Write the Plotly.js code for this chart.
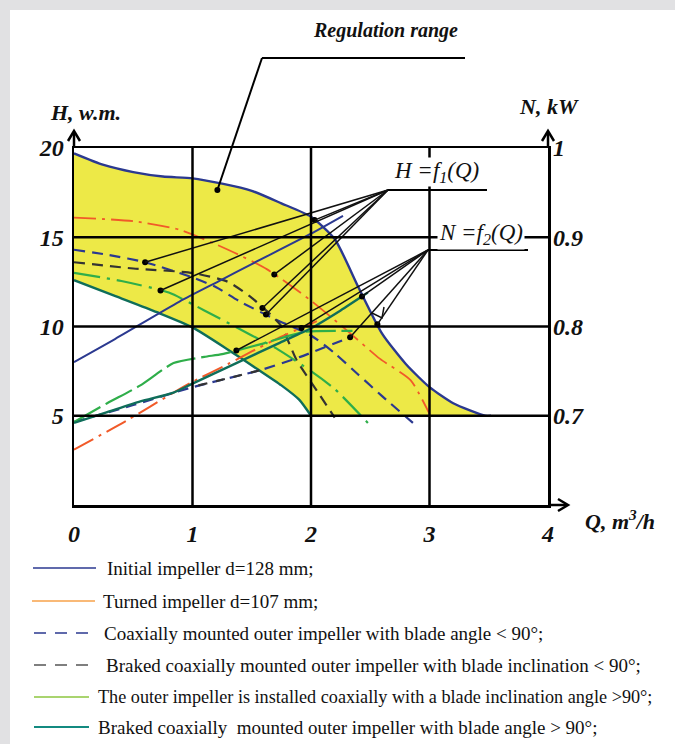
<!DOCTYPE html>
<html><head><meta charset="utf-8">
<script src="https://cdn.plot.ly/plotly-3.0.1.min.js"></script>
<style>
body{margin:0;background:#fff;}
#plot{width:675px;height:744px;}
#plot svg text{font-family:"Liberation Serif","Times New Roman",serif !important;}
.band{position:absolute;background:#e1e1e3;}
</style>
</head><body>
<div id="plot"></div>
<div class="band" style="left:0;top:0;width:675px;height:10px"></div>
<div class="band" style="left:0;top:0;width:10px;height:744px"></div>
<script>
// ---------- data ----------
const qTicks = [0, 1, 2, 3, 4];
const qTickText = ['0', '1', '2', '3', '4'];
const hGrid = [0, 5, 10, 15, 20];
const hTicks = [5, 10, 15, 20];
const hTickText = ['5', '10', '15', '20'];
const nTicks = [0.7, 0.8, 0.9, 1.0];
const nTickText = ['0.7', '0.8', '0.9', '1'];

// H = f1(Q), head in w.m.
const qInitH  = [0, 0.25, 0.5, 0.75, 1, 1.25, 1.5, 1.75, 2, 2.2, 2.4, 2.6, 2.8, 3.0, 3.2, 3.47, 3.52];
const hInitH  = [19.7, 19.05, 18.65, 18.4, 18.3, 18.0, 17.6, 16.9, 16.15, 14.9, 12.2, 9.6, 7.9, 6.6, 5.7, 5.0, 5.0];
const qTurnH  = [0, 0.5, 0.9, 1.3, 1.63, 1.99, 2.3, 2.58, 2.84, 3.0];
const hTurnH  = [16.1, 15.9, 15.4, 14.3, 13.2, 11.5, 9.8, 8.2, 7.0, 5.1];
const qCoaxLtH = [0, 0.3, 0.6, 1.0, 1.2, 1.4, 1.7, 2.0, 2.2, 2.4, 2.6, 2.86];
const hCoaxLtH = [14.3, 14.0, 13.6, 12.75, 12.2, 11.4, 10.4, 9.5, 8.5, 7.3, 6.1, 4.6];
const qBrakeLtH = [0, 0.5, 1.0, 1.3, 1.5, 1.74, 1.88, 2.05, 2.2];
const hBrakeLtH = [13.6, 13.25, 13.0, 12.5, 11.6, 10.1, 8.1, 6.4, 4.9];
const qCoaxGtH = [0, 0.4, 0.8, 1.1, 1.5, 1.7, 2.0, 2.2, 2.48];
const hCoaxGtH = [13.0, 12.55, 11.9, 10.9, 9.5, 8.8, 7.5, 6.5, 4.6];
const qBrakeGtH = [0, 0.35, 0.7, 1.0, 1.3, 1.55, 1.75, 1.9, 2.0];
const hBrakeGtH = [12.6, 11.7, 10.8, 9.95, 8.7, 7.6, 6.7, 5.9, 5.0];

// N = f2(Q), power in kW
const qInitN  = [0, 0.32, 0.89, 1.24, 1.5, 2.0, 2.27];
const nInitN  = [0.760, 0.784, 0.828, 0.852, 0.870, 0.904, 0.924];
const qTurnN  = [0, 0.45, 0.84, 1.0, 1.3, 1.5, 1.74, 2.05];
const nTurnN  = [0.662, 0.695, 0.726, 0.738, 0.758, 0.772, 0.788, 0.806];
const qCoaxLtN = [0, 0.5, 1.0, 1.3, 1.57, 1.91, 2.33];
const nCoaxLtN = [0.693, 0.712, 0.732, 0.742, 0.751, 0.766, 0.788];
const qBrakeLtN = [1.05, 1.3, 1.6];
const nBrakeLtN = [0.734, 0.742, 0.752];
const qCoaxGtN = [0, 0.28, 0.56, 0.84, 1.1, 1.25, 1.57, 1.95, 2.35];
const nCoaxGtN = [0.693, 0.714, 0.734, 0.759, 0.766, 0.769, 0.780, 0.794, 0.795];
const qBrakeGtN = [0, 0.28, 0.56, 0.84, 1.0, 1.37, 1.74, 2.0, 2.25, 2.48];
const nBrakeGtN = [0.692, 0.704, 0.716, 0.726, 0.736, 0.759, 0.782, 0.798, 0.818, 0.838];

const legendLabels = [
  'Initial impeller d=128 mm;',
  'Turned impeller d=107 mm;',
  'Coaxially mounted outer impeller with blade angle &lt; 90°;',
  'Braked coaxially mounted outer impeller with blade inclination &lt; 90°;',
  'The outer impeller is installed coaxially with a blade inclination angle >90°;',
  'Braked coaxially  mounted outer impeller with blade angle > 90°;'
];

// ---------- styling / layout ----------
const qRange = [0, 4], hRange = [0, 20], nRange = [0.6, 1.0];
const L = 74, T = 148, PW = 474, PH = 357, FW = 675, FH = 744;
const px = x => (x - L) / PW;
const py = y => (T + PH - y) / PH;
const SERIF = 'Liberation Serif';

const C = {blue:'#2b3990', orange:'#f15a29', grey:'#333333', green:'#2fae4a', teal:'#0f6e5a', yellow:'#ede947'};

function interp(xs, ys, q){
  for (let i = 0; i < xs.length - 1; i++){
    if (q >= xs[i] && q <= xs[i+1]) return ys[i] + (ys[i+1]-ys[i])*(q-xs[i])/(xs[i+1]-xs[i]);
  }
  return ys[ys.length-1];
}

const traces = [];
// regulation range (yellow)
traces.push({x: qInitH.concat(qBrakeGtH.slice().reverse()), y: hInitH.concat(hBrakeGtH.slice().reverse()),
  mode:'lines', fill:'toself', fillcolor:C.yellow, line:{width:0}, hoverinfo:'skip'});

function ln(x, y, color, width, dash, axis){
  return {x, y, mode:'lines', line:{color, width, dash, shape:'spline', smoothing:0.6}, yaxis: axis||'y', hoverinfo:'skip'};
}
const dashBlue = '11px,7px', dashDotOr = '22px,6px,3px,6px', dashGreen = '26px,7px,3px,7px';
// N curves
traces.push(ln(qTurnN, nTurnN, C.orange, 2, dashDotOr, 'y2'));
traces.push(ln(qCoaxLtN, nCoaxLtN, C.blue, 2.2, dashBlue, 'y2'));
traces.push(ln(qBrakeLtN, nBrakeLtN, C.grey, 2.2, '9px,9px', 'y2'));
traces.push(ln(qCoaxGtN, nCoaxGtN, C.green, 2.2, '30px,6px', 'y2'));
traces.push(ln(qBrakeGtN, nBrakeGtN, C.teal, 2.4, 'solid', 'y2'));
traces.push(ln(qInitN, nInitN, C.blue, 2, 'solid', 'y2'));
// H curves
traces.push(ln(qTurnH, hTurnH, C.orange, 1.8, dashDotOr));
traces.push(ln(qCoaxLtH, hCoaxLtH, C.blue, 2.2, dashBlue));
traces.push(ln(qBrakeLtH, hBrakeLtH, C.grey, 2.2, dashBlue));
traces.push(ln(qCoaxGtH, hCoaxGtH, C.green, 2.2, dashGreen));
traces.push(ln(qBrakeGtH, hBrakeGtH, C.teal, 2.4, 'solid'));
traces.push(ln(qInitH, hInitH, C.blue, 2.4, 'solid'));

// pointer targets on the curves
const hTargets = [
  {xs:qCoaxLtH, ys:hCoaxLtH, q:0.6, ax:'h'},
  {xs:qCoaxGtH, ys:hCoaxGtH, q:0.73, ax:'h'},
  {xs:qTurnH, ys:hTurnH, q:1.69, ax:'h'},
  {xs:qBrakeLtH, ys:hBrakeLtH, q:1.59, ax:'h'},
  {xs:qCoaxLtH, ys:hCoaxLtH, q:1.62, ax:'h'},
  {xs:qInitH, ys:hInitH, q:2.03, ax:'h'}
];
const nTargets = [
  {xs:qBrakeGtN, ys:nBrakeGtN, q:2.43, ax:'n'},
  {xs:qInitH, ys:hInitH, q:2.56, ax:'h'},
  {xs:qCoaxLtN, ys:nCoaxLtN, q:2.33, ax:'n'},
  {xs:qTurnN, ys:nTurnN, q:1.92, ax:'n'},
  {xs:qCoaxGtN, ys:nCoaxGtN, q:1.37, ax:'n'}
];
const regDot = {q:1.21, h:17.65};

function toPaper(t){
  const v = interp(t.xs, t.ys, t.q);
  const yp = t.ax === 'h' ? (v - hRange[0])/(hRange[1]-hRange[0]) : (v - nRange[0])/(nRange[1]-nRange[0]);
  return {x:(t.q - qRange[0])/(qRange[1]-qRange[0]), y:yp, v};
}

const shapes = [];
const lineStyle = {color:'#111', width:1.5};
const hOrigin = {x:px(388), y:py(190)};
const nOrigin = {x:px(428), y:py(250)};
const dotsH = {x:[], y:[]}, dotsN = {x:[], y:[]};
hTargets.forEach(t => { const p = toPaper(t);
  shapes.push({type:'line', xref:'paper', yref:'paper', x0:hOrigin.x, y0:hOrigin.y, x1:p.x, y1:p.y, line:lineStyle, layer:'above'});
  dotsH.x.push(t.q); dotsH.y.push(p.v); });
nTargets.forEach(t => { const p = toPaper(t);
  shapes.push({type:'line', xref:'paper', yref:'paper', x0:nOrigin.x, y0:nOrigin.y, x1:p.x, y1:p.y, line:lineStyle, layer:'above'});
  if (t.ax === 'h'){ dotsH.x.push(t.q); dotsH.y.push(p.v); } else { dotsN.x.push(t.q); dotsN.y.push(p.v); } });
dotsH.x.push(regDot.q); dotsH.y.push(regDot.h);
traces.push({x:dotsH.x, y:dotsH.y, mode:'markers', marker:{color:'#000', size:6}, hoverinfo:'skip'});
traces.push({x:dotsN.x, y:dotsN.y, yaxis:'y2', mode:'markers', marker:{color:'#000', size:6}, hoverinfo:'skip'});

// regulation range leader
const regP = {x:(regDot.q-qRange[0])/(qRange[1]-qRange[0]), y:(regDot.h-hRange[0])/(hRange[1]-hRange[0])};
shapes.push({type:'line', xref:'paper', yref:'paper', x0:regP.x, y0:regP.y, x1:px(262), y1:py(58), line:{color:'#000', width:2}, layer:'above'});
shapes.push({type:'line', xref:'paper', yref:'paper', x0:px(262), y0:py(58), x1:px(465), y1:py(58), line:{color:'#000', width:2}, layer:'above'});
// label underlines
shapes.push({type:'line', xref:'paper', yref:'paper', x0:px(388), y0:py(190), x1:px(487), y1:py(190), line:{color:'#000', width:2}, layer:'above'});
shapes.push({type:'line', xref:'paper', yref:'paper', x0:px(428), y0:py(250), x1:px(528), y1:py(250), line:{color:'#000', width:2}, layer:'above'});

// interior grid lines from ticks
qTicks.slice(1, -1).forEach(q => shapes.push({type:'line', xref:'x', yref:'y', x0:q, x1:q, y0:hRange[0], y1:hRange[1], line:{color:'#000', width:2.5}, layer:'above'}));
hGrid.slice(1, -1).forEach(h => shapes.push({type:'line', xref:'x', yref:'y', x0:qRange[0], x1:qRange[1], y0:h, y1:h, line:{color:'#000', width:2.5}, layer:'above'}));

// axis arrows
function arrowPath(tx, ty, dir){
  if (dir === 'up') return `M${px(tx-6)},${py(ty+10)} L${px(tx)},${py(ty)} L${px(tx+6)},${py(ty+10)}`;
  return `M${px(tx-10)},${py(ty-6)} L${px(tx)},${py(ty)} L${px(tx-10)},${py(ty+6)}`;
}
shapes.push({type:'line', xref:'paper', yref:'paper', x0:px(74), y0:py(148), x1:px(74), y1:py(132), line:{color:'#000', width:2.5}});
shapes.push({type:'path', xref:'paper', yref:'paper', path:arrowPath(74, 131, 'up'), line:{color:'#000', width:2.5}});
shapes.push({type:'line', xref:'paper', yref:'paper', x0:px(548), y0:py(148), x1:px(548), y1:py(132), line:{color:'#000', width:2.5}});
shapes.push({type:'path', xref:'paper', yref:'paper', path:arrowPath(548, 131, 'up'), line:{color:'#000', width:2.5}});
shapes.push({type:'line', xref:'paper', yref:'paper', x0:px(548), y0:py(505), x1:px(567), y1:py(505), line:{color:'#000', width:2.5}});
shapes.push({type:'path', xref:'paper', yref:'paper', path:arrowPath(568, 505, 'right'), line:{color:'#000', width:2.5}});
// small arrowhead on one N pointer
shapes.push({type:'path', xref:'paper', yref:'paper',
  path:`M${px(372)},${py(313)} L${px(382)},${py(318)} L${px(384)},${py(307)}`, line:{color:'#111', width:1.5}, layer:'above'});

// legend (drawn)
const legY = [568, 601, 633, 665, 697, 727];
const legX0 = [33, 32, 34, 34, 34, 34], legX1 = [96, 95, 93, 93, 89, 89], legTX = [105, 101, 102, 104, 96, 96];
const legSize = [19, 19, 19, 19, 18.2, 19];
const legStyle = [
  {color:'#2b3990', width:1.6, dash:'solid'},
  {color:'#f7a24a', width:1.6, dash:'solid'},
  {color:'#2b3990', width:1.6, dash:'12px,9px'},
  {color:'#555555', width:1.6, dash:'12px,9px'},
  {color:'#8dc63f', width:1.6, dash:'solid'},
  {color:'#138a80', width:2.2, dash:'solid'}
];
const annotations = [];
legendLabels.forEach((lab, i) => {
  shapes.push({type:'line', xref:'paper', yref:'paper', x0:px(legX0[i]), x1:px(legX1[i]), y0:py(legY[i]), y1:py(legY[i]), line:legStyle[i]});
  annotations.push({xref:'paper', yref:'paper', x:px(legTX[i]), y:py(legY[i]), xanchor:'left', yanchor:'middle', text:lab, showarrow:false,
    font:{family:SERIF, size:legSize[i], color:'#111'}});
});

const titleFont = {family:SERIF, size:22, color:'#111', style:'italic', weight:'bold'};
function ann(text, x, y, xa, font, extra){ annotations.push(Object.assign({xref:'paper', yref:'paper', x:px(x), y:py(y), xanchor:xa, yanchor:'middle', text, showarrow:false, font}, extra||{})); }
ann('Regulation range', 385, 30, 'center', Object.assign({}, titleFont, {size:20}));
ann('H, w.m.', 48, 113, 'left', titleFont);
ann('N, kW', 517, 106, 'left', titleFont);
ann('Q, m<sup>3</sup>/h', 583, 520, 'left', titleFont);
ann('H =f<sub>1</sub>(Q)', 436, 172, 'center', {family:SERIF, size:23, color:'#111', style:'italic'}, {bgcolor:'#fff', borderpad:0});
ann('N =f<sub>2</sub>(Q)', 481, 234, 'center', {family:SERIF, size:23, color:'#111', style:'italic'}, {bgcolor:'#fff', borderpad:1});

const tickFont = {family:SERIF, size:24, color:'#111', style:'italic', weight:'bold'};
const layout = {
  width:FW, height:FH, paper_bgcolor:'#fff', plot_bgcolor:'#fff', showlegend:false, hovermode:false,
  margin:{l:L, r:FW-L-PW, t:T, b:FH-T-PH, pad:0},
  xaxis:{range:qRange, tickvals:qTicks, ticktext:qTickText, tickfont:tickFont, ticks:'', showgrid:false, zeroline:false,
    showline:true, mirror:true, linecolor:'#000', linewidth:2.5, layer:'above traces', ticklabelstandoff:6, fixedrange:true},
  yaxis:{range:hRange, tickvals:hTicks, ticktext:hTickText, tickfont:tickFont, ticks:'', showgrid:false, zeroline:false,
    showline:true, mirror:true, linecolor:'#000', linewidth:2.5, layer:'above traces', ticklabelstandoff:3, fixedrange:true},
  yaxis2:{range:nRange, overlaying:'y', side:'right', tickvals:nTicks, ticktext:nTickText, tickfont:tickFont, ticks:'',
    showgrid:false, zeroline:false, showline:false, ticklabelstandoff:4, fixedrange:true},
  shapes, annotations
};
Plotly.newPlot('plot', traces, layout, {staticPlot:true, displayModeBar:false});
</script>
</body></html>
